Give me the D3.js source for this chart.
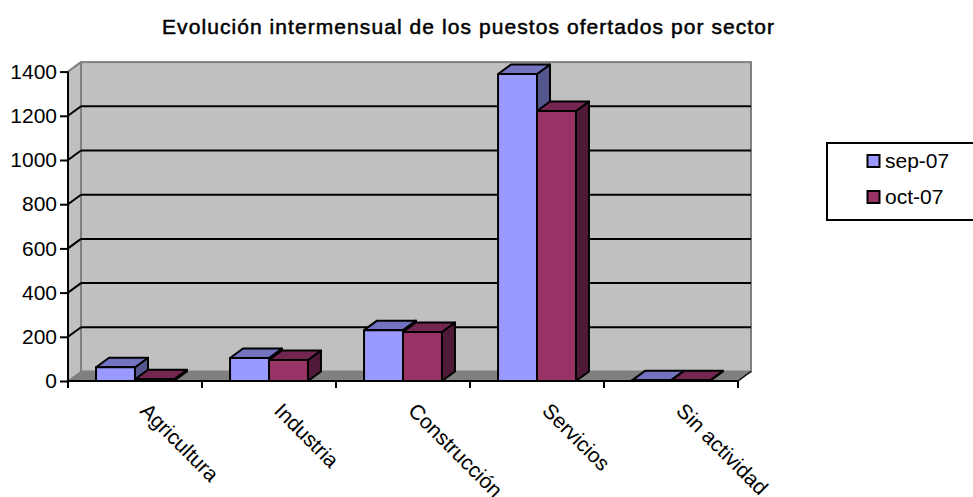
<!DOCTYPE html>
<html>
<head>
<meta charset="utf-8">
<script src="https://cdn.jsdelivr.net/npm/d3@7"></script>
<style>
  html, body { margin: 0; padding: 0; background: #fff; overflow: hidden; }
  text { font-family: "Liberation Sans", Arial, sans-serif; fill: #000; }
</style>
</head>
<body>
<div id="viz"></div>
<script>
const categories = ["Agricultura", "Industria", "Construcción", "Servicios", "Sin actividad"];
const seriesNames = ["sep-07", "oct-07"];
const sep07 = [62, 104, 230, 1389, 3];
const oct07 = [8, 95, 222, 1222, 3];
const yTicks = [0, 200, 400, 600, 800, 1000, 1200, 1400];

const title = "Evolución intermensual de los puestos ofertados por sector";
const frontFill = ["#9999ff", "#993366"];
const topFill = ["#7373bf", "#732650"];
const sideFill = ["#56568f", "#4f1a38"];

const width = 973, height = 497;
const plotLeft = 68, plotRight = 738, plotTop = 71.6, plotBottom = 381;
const dx = 13, dy = -9.5;

const svg = d3.select("#viz").append("svg")
    .attr("width", width)
    .attr("height", height);

const xScale = d3.scaleBand().domain(categories).range([plotLeft, plotRight]);
const barScale = d3.scaleBand().domain(seriesNames).range([0, xScale.bandwidth()]).paddingOuter(0.72);
const yScale = d3.scaleLinear().domain([0, 1400]).range([plotBottom, plotTop]);

const pts = a => a.map(p => p.join(",")).join(" ");

svg.append("text")
    .attr("x", 162).attr("y", 34)
    .attr("font-size", 21)
    .attr("stroke", "#000")
    .attr("stroke-width", 0.5)
    .attr("textLength", 612)
    .text(title);

// walls
svg.append("polygon")
    .attr("points", pts([[plotLeft, plotBottom], [plotLeft + dx, plotBottom + dy], [plotLeft + dx, plotTop + dy], [plotLeft, plotTop]]))
    .attr("fill", "#c0c0c0");
svg.append("rect")
    .attr("x", plotLeft + dx).attr("y", plotTop + dy)
    .attr("width", plotRight - plotLeft).attr("height", plotBottom - plotTop)
    .attr("fill", "#c0c0c0")
    .attr("stroke", "#808080")
    .attr("stroke-width", 2);
svg.append("polygon")
    .attr("points", pts([[plotLeft, plotBottom], [plotRight, plotBottom], [plotRight + dx, plotBottom + dy], [plotLeft + dx, plotBottom + dy]]))
    .attr("fill", "#808080");

// gridlines, back wall plus the slant on the side wall
yTicks.slice(1).forEach(t => {
    if (t < 1400) {
        svg.append("line")
            .attr("x1", plotLeft + dx).attr("x2", plotRight + dx)
            .attr("y1", yScale(t) + dy).attr("y2", yScale(t) + dy)
            .attr("stroke", "#000").attr("stroke-width", 2);
    }
    svg.append("line")
        .attr("x1", plotLeft).attr("x2", plotLeft + dx)
        .attr("y1", yScale(t)).attr("y2", yScale(t) + dy)
        .attr("stroke", t < 1400 ? "#000" : "#808080").attr("stroke-width", 2);
});

// floor edges
svg.append("line")
    .attr("x1", plotLeft).attr("y1", plotBottom)
    .attr("x2", plotLeft + dx).attr("y2", plotBottom + dy)
    .attr("stroke", "#808080").attr("stroke-width", 1.5);
svg.append("line")
    .attr("x1", plotRight).attr("y1", plotBottom)
    .attr("x2", plotRight + dx).attr("y2", plotBottom + dy)
    .attr("stroke", "#000").attr("stroke-width", 1.5);

// bars
const barW = barScale.bandwidth();
[sep07, oct07].forEach((vals, s) => {
    categories.forEach((c, i) => {
        const g = svg.append("g").attr("stroke", "#000").attr("stroke-width", 2).attr("stroke-linejoin", "round");
        const x0 = xScale(c) + barScale(seriesNames[s]);
        const x1 = x0 + barW;
        const y0 = yScale(vals[i]);
        g.append("polygon")
            .attr("points", pts([[x1, y0], [x1 + dx, y0 + dy], [x1 + dx, plotBottom + dy], [x1, plotBottom]]))
            .attr("fill", sideFill[s]);
        g.append("polygon")
            .attr("points", pts([[x0, y0], [x0 + dx, y0 + dy], [x1 + dx, y0 + dy], [x1, y0]]))
            .attr("fill", topFill[s]);
        g.append("rect")
            .attr("x", x0).attr("y", y0)
            .attr("width", barW).attr("height", plotBottom - y0)
            .attr("fill", frontFill[s]);
    });
});

// axes
const yAxis = d3.axisLeft(yScale).tickValues(yTicks).tickSize(8).tickPadding(3).tickFormat(d3.format("d"));
svg.append("g")
    .attr("transform", `translate(${plotLeft},0)`)
    .call(yAxis)
    .call(g => g.select(".domain").attr("stroke-width", 2).attr("d", `M0,${plotTop}V${plotBottom}`))
    .call(g => g.selectAll(".tick line").attr("stroke-width", 2))
    .call(g => g.selectAll("text").attr("font-size", 21).attr("font-family", "Liberation Sans").attr("fill", "#000"));

const xAxis = d3.axisBottom(xScale).tickSize(0);
svg.append("g")
    .attr("transform", `translate(0,${plotBottom})`)
    .call(xAxis)
    .call(g => g.select(".domain").attr("stroke-width", 2).attr("d", `M${plotLeft},0H${plotRight}`))
    .call(g => g.selectAll("text")
        .attr("font-size", 21)
        .attr("font-family", "Liberation Sans")
        .attr("fill", "#000")
        .attr("text-anchor", "start")
        .attr("dy", 0)
        .attr("y", 0)
        .attr("transform", "translate(4,31) rotate(45)"));

// tick marks sit on the band edges
categories.concat([null]).forEach((c, i) => {
    const x = plotLeft + i * xScale.step();
    svg.append("line")
        .attr("x1", x).attr("x2", x)
        .attr("y1", plotBottom).attr("y2", plotBottom + 7)
        .attr("stroke", "#000").attr("stroke-width", 2);
});

// legend
const legend = svg.append("g");
legend.append("rect")
    .attr("x", 827).attr("y", 143)
    .attr("width", 160).attr("height", 77)
    .attr("fill", "#fff").attr("stroke", "#000").attr("stroke-width", 2);
seriesNames.forEach((name, i) => {
    const yc = 161 + i * 36;
    legend.append("rect")
        .attr("x", 867.5).attr("y", yc - 6)
        .attr("width", 12).attr("height", 12)
        .attr("fill", frontFill[i]).attr("stroke", "#000").attr("stroke-width", 2);
    legend.append("text")
        .attr("x", 885).attr("y", yc + 7)
        .attr("font-size", 21)
        .text(name);
});
</script>
</body>
</html>
